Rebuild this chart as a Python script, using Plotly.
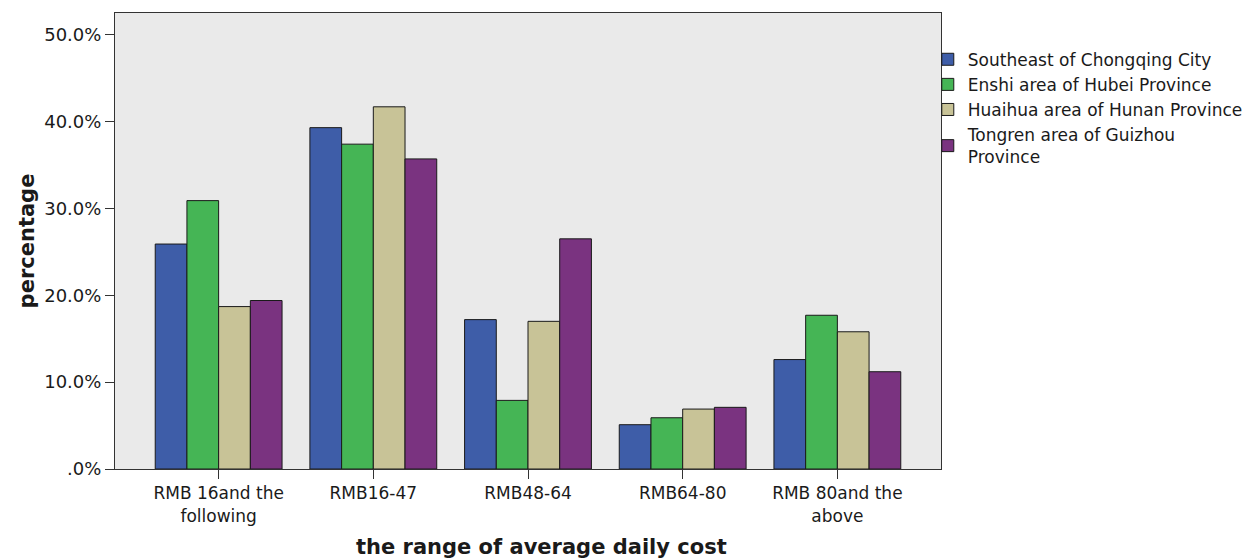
import plotly.graph_objects as go

categories = ["RMB 16and the<br>following", "RMB16-47", "RMB48-64", "RMB64-80", "RMB 80and the<br>above"]
series_names = ["Southeast of Chongqing City", "Enshi area of Hubei Province",
                "Huaihua area of Hunan Province", "Tongren area of Guizhou<br>Province"]
southeast = [25.9, 39.3, 17.2, 5.1, 12.6]
enshi = [30.9, 37.4, 7.9, 5.9, 17.7]
huaihua = [18.7, 41.7, 17.0, 6.9, 15.8]
tongren = [19.4, 35.7, 26.5, 7.1, 11.2]
colors = ["#3E5DA8", "#45B555", "#C8C397", "#7A3380"]
y_ticks = [0, 10, 20, 30, 40, 50]
y_tick_labels = [".0%", "10.0%", "20.0%", "30.0%", "40.0%", "50.0%"]

fig = go.Figure()
for name, vals, col in zip(series_names, [southeast, enshi, huaihua, tongren], colors):
    fig.add_trace(go.Bar(x=categories, y=vals, name=name,
                         marker=dict(color=col, line=dict(color="#1a1a1a", width=1))))

fig.update_layout(
    width=1250, height=551,
    margin=dict(l=107, r=317, t=5, b=90),
    paper_bgcolor="white", plot_bgcolor="#EAEAEA",
    barmode="group", bargap=0.18, bargroupgap=0,
    font=dict(family="DejaVu Sans, sans-serif", size=17, color="#1a1a1a"),
    legend=dict(x=0.984, xanchor="left", y=0.937, yanchor="top", traceorder="normal",
                font=dict(size=17), bgcolor="rgba(0,0,0,0)", itemwidth=30,
                tracegroupgap=0),
    showlegend=True,
)
fig.update_xaxes(
    range=[-0.67, 4.67], showline=True, linecolor="#333", linewidth=1, mirror=True,
    ticks="outside", ticklen=9, tickcolor="#333", showgrid=False,
    tickfont=dict(size=17),
    title=dict(text="&nbsp;&nbsp;&nbsp;&nbsp;<b>the range of average daily cost</b>",
               font=dict(size=21), standoff=14),
)
fig.update_yaxes(
    range=[0, 52.5], tickvals=y_ticks, ticktext=y_tick_labels,
    showline=True, linecolor="#333", linewidth=1, mirror=True,
    ticks="outside", ticklen=9, tickcolor="#333", showgrid=False, zeroline=False,
    tickfont=dict(size=18),
    title=dict(text="<b>percentage</b>", font=dict(size=21), standoff=3),
)
fig.write_html("out.html")
